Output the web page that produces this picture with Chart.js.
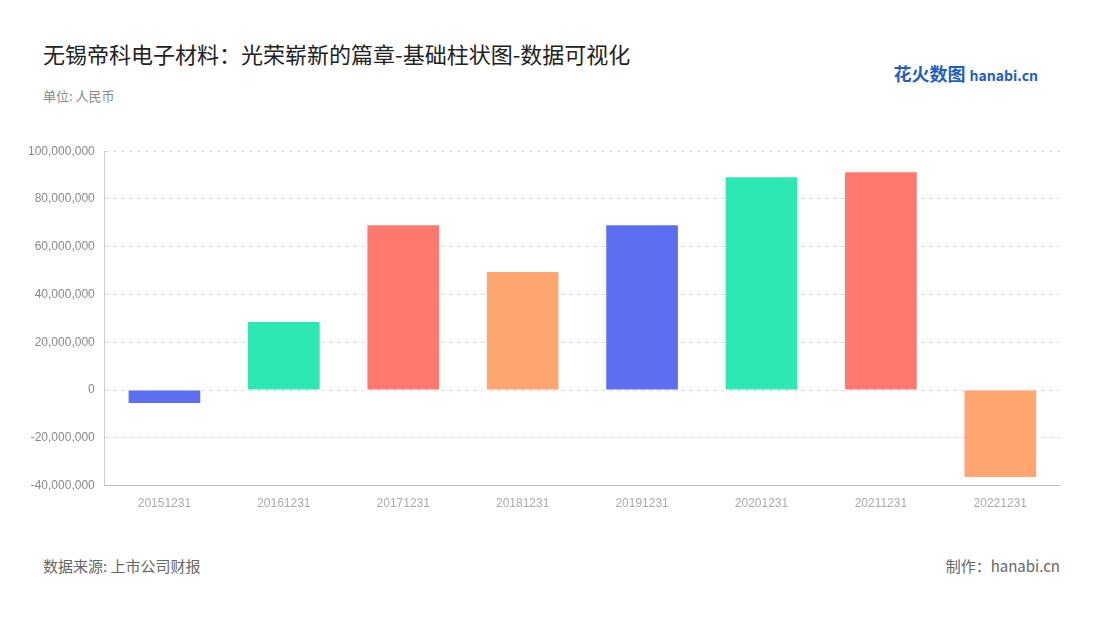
<!DOCTYPE html>
<html>
<head>
<meta charset="utf-8">
<script src="https://cdn.jsdelivr.net/npm/chart.js@4/dist/chart.umd.min.js"></script>
<style>
  body { margin: 0; width: 1100px; height: 620px; background: #fff; font-family: "Noto Sans CJK SC", "Noto Sans", sans-serif; position: relative; overflow: hidden; }
  #title { position: absolute; left: 43px; top: 37px; font-size: 22px; color: #222; }
  #unit { position: absolute; left: 43px; top: 86px; font-size: 13px; color: #888; }
  #logo { position: absolute; right: 62px; top: 60px; font-size: 18px; font-weight: bold; color: #1f5fbf; }
  #logo span { font-size: 14px; color: #1f5fbf; }
  #source { position: absolute; left: 43px; top: 555px; font-size: 15px; color: #666; }
  #maker { position: absolute; right: 40px; top: 555px; font-size: 15px; color: #666; }
  #wrap { position: absolute; left: 0; top: 134px; width: 1060px; height: 380px; }
</style>
</head>
<body>
<div id="title">无锡帝科电子材料：光荣崭新的篇章-基础柱状图-数据可视化</div>
<div id="unit">单位: 人民币</div>
<div id="logo">花火数图 <span>hanabi.cn</span></div>
<div id="wrap"><canvas id="chart"></canvas></div>
<div id="source">数据来源: 上市公司财报</div>
<div id="maker">制作：hanabi.cn</div>
<script>
const categories = ['20151231', '20161231', '20171231', '20181231', '20191231', '20201231', '20211231', '20221231'];
const values = [-5400000, 28500000, 69000000, 49400000, 69000000, 89100000, 91200000, -36400000];
const palette = ['#5b6ff0', '#2ee8b4', '#ff7870', '#ffa570'];

new Chart(document.getElementById('chart'), {
    type: 'bar',
    data: {
        labels: categories,
        datasets: [{
            data: values,
            backgroundColor: categories.map((c, i) => palette[i % palette.length]),
            categoryPercentage: 0.6,
            barPercentage: 1
        }]
    },
    options: {
        responsive: true,
        maintainAspectRatio: false,
        animation: false,
        layout: { padding: { left: 18 } },
        plugins: { legend: { display: false }, tooltip: { enabled: false } },
        scales: {
            y: {
                min: -40000000,
                max: 100000000,
                ticks: { stepSize: 20000000, color: '#888', font: { size: 12 }, padding: 10, callback: v => v.toLocaleString('en-US') },
                grid: { color: '#ddd', drawTicks: false },
                border: { display: true, color: '#ccc', dash: [4, 4] }
            },
            x: {
                ticks: { color: '#aaa', font: { size: 12 } },
                grid: { display: false },
                border: { color: '#bbb' }
            }
        }
    }
});
</script>
</body>
</html>
